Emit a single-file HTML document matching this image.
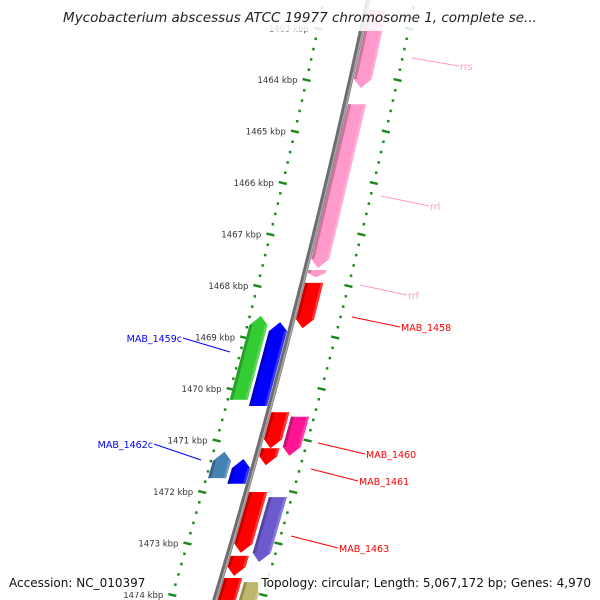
<!DOCTYPE html>
<html><head><meta charset="utf-8">
<style>
html,body{margin:0;padding:0;background:#fff;}
svg{display:block;font-family:"DejaVu Sans","Liberation Sans",sans-serif;}
</style></head>
<body>
<svg id="map" width="600" height="600" viewBox="0 0 600 600" xmlns="http://www.w3.org/2000/svg">
<g id="rulers"></g>
<g id="backbone"></g>
<g id="genes"></g>
<g id="labels"></g>
<rect x="0" y="0" width="600" height="31" fill="#fff" opacity="0.85"/>
<text x="300" y="22" text-anchor="middle" font-size="13.5" font-style="italic" fill="#222">Mycobacterium abscessus ATCC 19977 chromosome 1, complete se...</text>
<rect x="6" y="573" width="142" height="19" fill="#fff" opacity="0.85"/>
<text x="9" y="587" font-size="12" fill="#111">Accession: NC_010397</text>
<rect x="258" y="573" width="336" height="19" fill="#fff" opacity="0.85"/>
<text x="591" y="587" text-anchor="end" font-size="12" fill="#111">Topology: circular; Length: 5,067,172 bp; Genes: 4,970</text>
</svg>
<script>
// ---- data ----
const tickKbp = [1463,1464,1465,1466,1467,1468,1469,1470,1471,1472,1473,1474];
const geneNames  = ["rrs","rrl","rrf","MAB_1458","MAB_1459c-a","MAB_1459c","MAB_1460","MAB_1460b","MAB_1461","MAB_1462c-a","MAB_1462c","MAB_1463","MAB_1463b","MAB_1464","MAB_1465","MAB_1465b"];
const geneStart  = [1462.64,1464.47,1467.69,1467.94,1468.58,1468.70,1470.45,1470.54,1471.15,1471.22,1471.36,1472.00,1472.10,1473.24,1473.67,1473.75];
const geneEnd    = [1464.155,1467.65,1467.83,1468.82,1470.21,1470.33,1471.15,1471.30,1471.48,1471.73,1471.84,1473.18,1473.36,1473.63,1474.3,1474.3];
const geneStrand = [1,1,1,1,-1,-1,1,1,1,-1,-1,1,1,1,1,1];
const geneRing   = [0,0,0,0,1,0,0,1,0,1,0,0,1,0,0,1];
const geneColor  = ["#ff99cc","#ff99cc","#ff99cc","#ff0000","#33cc33","#0000ff","#ff0000","#ff1493","#ff0000","#4682b4","#0000ff","#ff0000","#6a5acd","#ff0000","#ff0000","#bdb76b"];

// ---- axis functions ----
const NS="http://www.w3.org/2000/svg";
function yOf(k){return 80+(k-1464)*51.5;}
function bx(y){return 368-0.212*y-7.22e-5*y*y;}
function mk(tag,attrs,parent){const e=document.createElementNS(NS,tag);for(const a in attrs)e.setAttribute(a,attrs[a]);parent.appendChild(e);return e;}
function shade(hex,f){const n=parseInt(hex.slice(1),16);let r=n>>16,g=(n>>8)&255,b=n&255;
  if(f>0){r+= (255-r)*f;g+=(255-g)*f;b+=(255-b)*f;}else{r*=1+f;g*=1+f;b*=1+f;}
  return "rgb("+Math.round(r)+","+Math.round(g)+","+Math.round(b)+")";}

// backbone
const bb=document.getElementById('backbone');
let d="";for(let y=-5;y<=605;y+=5){d+=(y===-5?"M":"L")+bx(y).toFixed(1)+","+y;}
const bl=mk('path',{d:d,stroke:"#6e6e6e","stroke-width":5,fill:"none"},bb);

const bl2=mk('path',{d:d,stroke:"#a8a8a8","stroke-width":1.5,fill:"none",transform:"translate(1.2,0)"},bb);


// rulers
const rg=document.getElementById('rulers');
const offs=[-44,47];
for(let s=0;s<2;s++){
  for(let k=1462.6;k<=1474.4;k+=0.2){
    const y=yOf(k);const x=bx(y)+offs[s];
    const major=Math.abs(k-Math.round(k))<0.01;
    const len=major?8:2.5;
    const e=mk('line',{x1:x-len/2,y1:y-(major?len*0.12:0),x2:x+len/2,y2:y+(major?len*0.12:0),stroke:"#1a8a1a","stroke-width":2.5},rg);
    
    
  }
}
tickKbp.forEach(k=>{
  const y=yOf(k);const x=bx(y)+offs[0]-9;
  const t=mk('text',{x:x,y:y+3,"text-anchor":"end","font-size":8.5,fill:"#333"},rg);
  t.textContent=k+" kbp";
  
  
});

// genes
const gg=document.getElementById('genes');
for(let i=0;i<geneNames.length;i++){
  const st=geneStrand[i],ring=geneRing[i];
  const o1=st>0?(ring?24:3):(ring?-42:-21), o2=o1+18;
  const y1=yOf(geneStart[i]),y2=yOf(geneEnd[i]);
  const head=Math.min(9,(y2-y1)*0.6);
  let pts;
  if(st>0){const yh=y2-head,ym=y2;
    pts=[[bx(y1)+o1,y1],[bx(y1)+o2,y1],[bx(yh)+o2,yh],[bx(ym)+(o1+o2)/2,ym],[bx(yh)+o1,yh]];
  }else{const yh=y1+head;
    pts=[[bx(y1)+(o1+o2)/2,y1],[bx(yh)+o2,yh],[bx(y2)+o2,y2],[bx(y2)+o1,y2],[bx(yh)+o1,yh]];
  }
  const g=mk('g',{},gg);
  
  
  mk('polygon',{points:pts.map(p=>p[0].toFixed(1)+","+p[1].toFixed(1)).join(" "),fill:geneColor[i]},g);
  const a=o1+3,b2=o2-2.5;
  const ya=st>0?y1:y1+head, yb=st>0?y2-head:y2;
  mk('polygon',{points:[[bx(ya)+o1,ya],[bx(ya)+a,ya],[bx(yb)+a,yb],[bx(yb)+o1,yb]].map(p=>p[0].toFixed(1)+","+p[1].toFixed(1)).join(" "),fill:shade(geneColor[i],-0.22)},g);
  mk('polygon',{points:[[bx(ya)+b2,ya],[bx(ya)+o2,ya],[bx(yb)+o2,yb],[bx(yb)+b2,yb]].map(p=>p[0].toFixed(1)+","+p[1].toFixed(1)).join(" "),fill:shade(geneColor[i],0.2)},g);
}

// labels
const lg=document.getElementById('labels');
const labs=[
 ["rrs",460,70,"#ff99cc",412,58,"start"],
 ["rrl",430,210,"#ff99cc",381,196,"start"],
 ["rrf",408,299,"#ff99cc",360,285,"start"],
 ["MAB_1458",401,331,"#ff0000",352,317,"start"],
 ["MAB_1460",366,458,"#ff0000",318,443,"start"],
 ["MAB_1461",359,485,"#ff0000",311,469,"start"],
 ["MAB_1463",339,552,"#ff0000",291,536,"start"],
 ["MAB_1459c",182,342,"#0000ff",230,352,"end"],
 ["MAB_1462c",153,448,"#0000ff",201,460,"end"]];
labs.forEach(L=>{
  const lx=L[6]==="start"?L[1]-1:L[1]+1;
  const ln=mk('line',{x1:lx,y1:L[2]-4,x2:L[4],y2:L[5],stroke:L[3],"stroke-width":1},lg);
  
  
  const t=mk('text',{x:L[1],y:L[2],"text-anchor":L[6],"font-size":9.5,fill:L[3]},lg);
  t.textContent=L[0];
  
  
});
</script>
</body></html>
